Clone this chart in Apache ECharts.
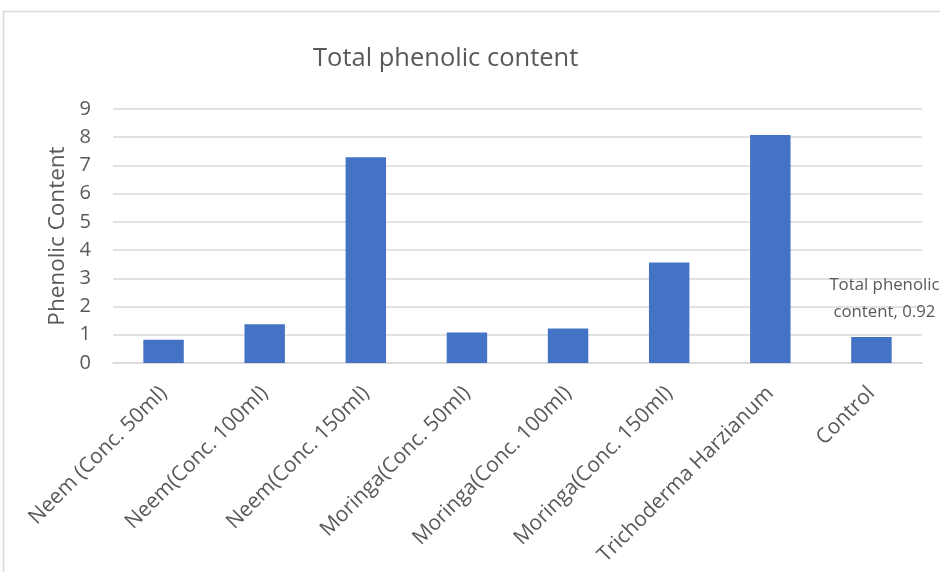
<!DOCTYPE html>
<html>
<head>
<meta charset="utf-8">
<script src="https://cdn.jsdelivr.net/npm/echarts@6/dist/echarts.min.js"></script>
<style>
  html, body { margin: 0; padding: 0; background: #ffffff; }
  #chart { width: 940px; height: 572px; }
</style>
</head>
<body>
<div id="chart"></div>
<script>
// Treatments along the category axis
const categories = [
  'Neem (Conc. 50ml)',
  'Neem(Conc. 100ml)',
  'Neem(Conc. 150ml)',
  'Moringa(Conc. 50ml)',
  'Moringa(Conc. 100ml)',
  'Moringa(Conc. 150ml)',
  'Trichoderma Harzianum',
  'Control'
];

// Total phenolic content per treatment
const phenolicValues = [0.82, 1.37, 7.29, 1.08, 1.22, 3.56, 8.08, 0.92];

// Value axis ticks
const yTicks = [0, 1, 2, 3, 4, 5, 6, 7, 8, 9];

// Only the Control bar carries a data label
const labelledIndex = [7];

const seriesName = 'Total phenolic content';
const FONT = '"Open Sans", "Noto Sans", sans-serif';
const TEXT = '#595959';
const GRID = '#d9d9d9';

const chart = echarts.init(document.getElementById('chart'), null, { renderer: 'canvas' });

const barData = phenolicValues.map((v, i) => {
  if (labelledIndex.indexOf(i) < 0) return v;
  return {
    value: v,
    label: {
      show: true,
      position: 'top',
      distance: 11,
      offset: [13, 0],
      color: TEXT,
      fontFamily: FONT,
      fontSize: 16.8,
      lineHeight: 27,
      align: 'center',
      formatter: p => p.seriesName.replace(' content', '\ncontent') + ', ' + p.value
    }
  };
});

chart.setOption({
  backgroundColor: '#ffffff',
  animation: false,
  title: {
    text: seriesName,
    left: 308,
    top: 41,
    textStyle: { color: TEXT, fontFamily: FONT, fontSize: 25.5, fontWeight: 'normal' }
  },
  graphic: [{
    type: 'rect',
    shape: { x: 3.5, y: 11.5, width: 1000, height: 1000 },
    style: { fill: 'none', stroke: GRID, lineWidth: 1.5 },
    silent: true
  }],
  grid: { left: 113, right: 18, top: 109, bottom: 209, containLabel: false },
  xAxis: {
    type: 'category',
    data: categories,
    axisLine: { show: true, lineStyle: { color: GRID, width: 1.5 } },
    axisTick: { show: false },
    axisLabel: {
      rotate: 45,
      interval: 0,
      margin: 27,
      color: TEXT,
      fontFamily: FONT,
      fontSize: 21
    }
  },
  yAxis: {
    type: 'value',
    min: yTicks[0],
    max: yTicks[yTicks.length - 1],
    interval: 1,
    name: 'Phenolic Content',
    nameLocation: 'middle',
    nameGap: 42,
    nameTextStyle: { color: TEXT, fontFamily: FONT, fontSize: 22.5 },
    axisLine: { show: false },
    axisTick: { show: false },
    axisLabel: { margin: 22, color: TEXT, fontFamily: FONT, fontSize: 20 },
    splitLine: { lineStyle: { color: GRID, width: 1.5 } }
  },
  series: [{
    name: seriesName,
    type: 'bar',
    data: barData,
    barWidth: '40%',
    itemStyle: { color: '#4472C4' }
  }]
});
</script>
</body>
</html>
